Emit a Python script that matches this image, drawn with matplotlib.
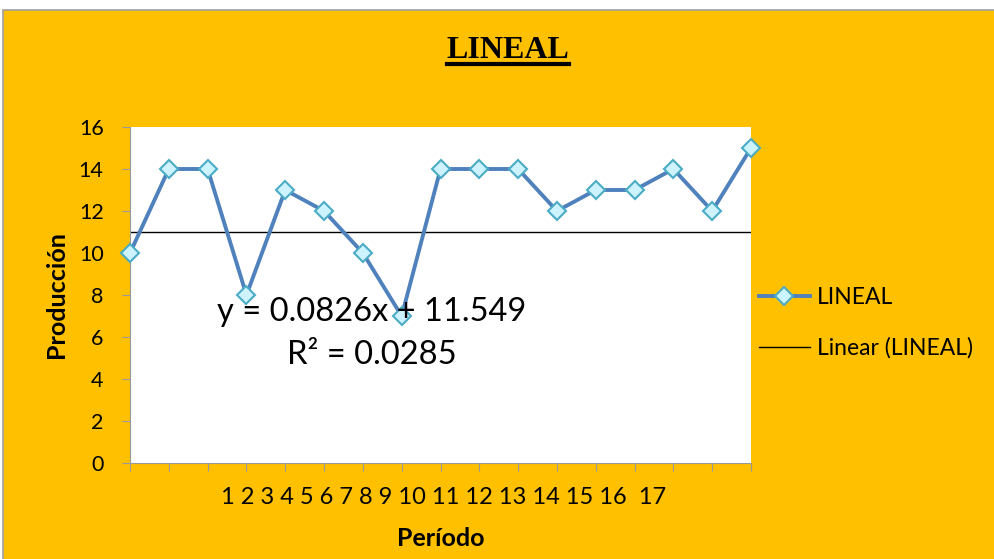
import numpy as np
import matplotlib
matplotlib.use('Agg')
import matplotlib.pyplot as plt
from matplotlib.patches import Rectangle
from matplotlib.lines import Line2D

plt.rcParams['font.family'] = ['Lato', 'DejaVu Sans']

# datos
periodos = list(range(1, 18))
produccion = [10, 14, 14, 8, 13, 12, 10, 7, 14, 14, 14, 12, 13, 13, 14, 12, 15]
etiquetas_x = ['1', '2', '3', '4', '5', '6', '7', '8', '9', '10', '11',
               '12', '13', '14', '15', '16', ' 17']
y_ticks = [0, 2, 4, 6, 8, 10, 12, 14, 16]
tendencia = [11.0, 11.0]   # linea de tendencia tal como aparece
ecuacion = "y = 0.0826x + 11.549"
r2 = "R² = 0.0285"

naranja = '#FFC000'
azul = '#4F81BD'

fig = plt.figure(figsize=(9.94, 5.59), dpi=100, facecolor='white')
# marco del grafico
fig.patches.append(Rectangle((3 / 994, -0.01), 1.0, 549 / 559 + 0.01,
                             transform=fig.transFigure, facecolor=naranja,
                             edgecolor='#A0A0A0', linewidth=1.2, zorder=-10))

ax = fig.add_axes([130 / 994, 96 / 559, 621 / 994, 336 / 559])
ax.set_facecolor('white')

ax.plot(periodos, produccion, color=azul, linewidth=2.8,
        marker='D', markersize=9.5, markerfacecolor='#CDF3FF',
        markeredgecolor='#4BACC6', markeredgewidth=1.5,
        label='LINEAL', zorder=3, clip_on=False)
ax.plot([periodos[0], periodos[-1]], tendencia, color='black', linewidth=1.0,
        label='Linear (LINEAL)', zorder=2)

ax.set_xlim(periodos[0], periodos[-1])
ax.set_ylim(0, 16)
ax.set_yticks(y_ticks)
ax.set_xticks(periodos)
ax.set_xticklabels([])
ax.tick_params(axis='y', length=6, color='#999999', labelsize=15.5, pad=13)
ax.tick_params(axis='x', length=6, color='#999999', direction='out')
for s in ['top', 'right']:
    ax.spines[s].set_visible(False)
for s in ['left', 'bottom']:
    ax.spines[s].set_color('#999999')

# etiquetas del eje x como una sola cadena
fig.text(444 / 994, 1 - 498 / 559, ' '.join(etiquetas_x), fontsize=17,
         ha='center', va='center')

fig.text(441 / 994, 1 - 538 / 559, 'Período', fontsize=18, fontweight='bold',
         ha='center', va='center')
fig.text(57 / 994, 1 - 295 / 559, 'Producción', fontsize=18, fontweight='bold',
         rotation=90, ha='center', va='center')

fig.text(372 / 994, 1 - 312 / 559, ecuacion, fontsize=23.5, ha='center', va='center')
fig.text(372 / 994, 1 - 355 / 559, r2, fontsize=23.5, ha='center', va='center')

# titulo subrayado
t = fig.text(508 / 994, 1 - 51 / 559, 'LINEAL', fontsize=23, fontweight='bold',
             family='Liberation Serif', ha='center', va='center')
fig.canvas.draw()
bb = t.get_window_extent().transformed(fig.transFigure.inverted())
fig.lines.append(Line2D([bb.x0, bb.x1], [1 - 64 / 559, 1 - 64 / 559],
                        transform=fig.transFigure, color='black', linewidth=3))

leg = ax.legend(loc='center left', bbox_to_anchor=(754 / 994, 1 - 323 / 559),
                bbox_transform=fig.transFigure, frameon=False, fontsize=16.5,
                handlelength=2.25, labelspacing=1.25, handletextpad=0.28,
                borderaxespad=0, borderpad=0.2)

fig.savefig('out.png', dpi=100, facecolor=fig.get_facecolor())
